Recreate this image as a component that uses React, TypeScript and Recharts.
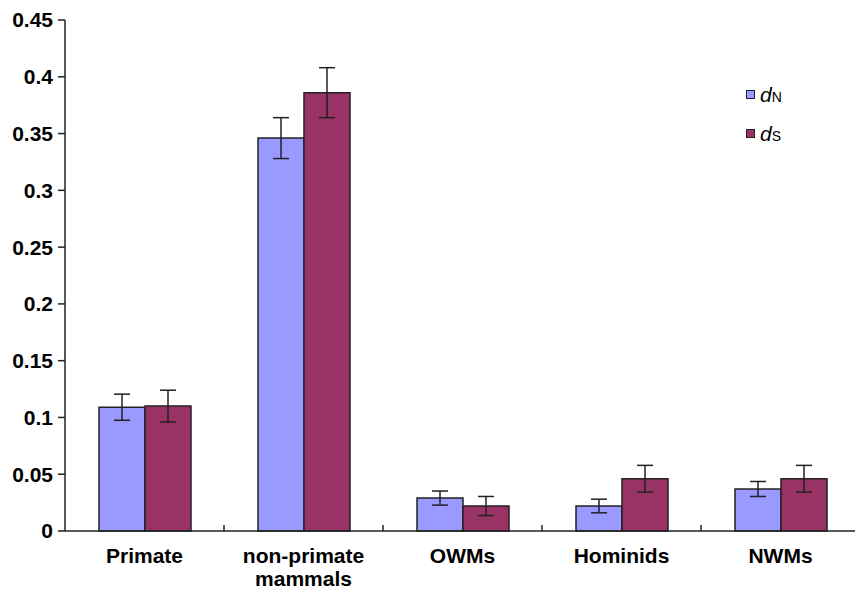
import { BarChart, Bar, XAxis, YAxis, ErrorBar } from "recharts";

const categories = ["Primate", "non-primate mammals", "OWMs", "Hominids", "NWMs"];
const dN = [0.109, 0.346, 0.029, 0.022, 0.037];
const dNErr = [0.0115, 0.018, 0.0062, 0.006, 0.0066];
const dS = [0.11, 0.386, 0.022, 0.046, 0.046];
const dSErr = [0.014, 0.022, 0.0084, 0.0118, 0.0118];
const yTicks = [0, 0.05, 0.1, 0.15, 0.2, 0.25, 0.3, 0.35, 0.4, 0.45];

const data = categories.map((name, i) => ({
  name,
  dN: dN[i],
  dNErr: dNErr[i],
  dS: dS[i],
  dSErr: dSErr[i],
}));

const FONT = "'Liberation Sans', Arial, sans-serif";
const N_COLOR = "#9999ff";
const S_COLOR = "#993366";
const EDGE = "#222";

// label under each band, plus a short upward tick on the band's left edge
function CategoryTick({ x, y, payload, index }: any) {
  const lines = String(payload.value).split(" ");
  const half = payload.offset || 0;
  return (
    <g>
      {index > 0 ? (
        <line
          x1={x - half}
          x2={x - half}
          y1={y}
          y2={y - 6}
          stroke={EDGE}
          strokeWidth={1.5}
        />
      ) : null}
      <text
        x={x}
        y={y}
        textAnchor="middle"
        fill="#000"
        fontFamily={FONT}
        fontWeight="bold"
        fontSize={21}
      >
        {lines.map((l, i) => (
          <tspan key={i} x={x} dy={i === 0 ? 32 : 23}>
            {l}
          </tspan>
        ))}
      </text>
    </g>
  );
}

function LegendBox() {
  const items = [
    { sub: "N", color: N_COLOR },
    { sub: "S", color: S_COLOR },
  ];
  return (
    <div
      style={{
        position: "absolute",
        left: 746,
        top: 75,
        fontFamily: FONT,
        color: "#000",
      }}
    >
      {items.map((it) => (
        <div
          key={it.sub}
          style={{ display: "flex", alignItems: "center", height: 39 }}
        >
          <span
            style={{
              width: 7,
              height: 7,
              background: it.color,
              border: `1px solid ${EDGE}`,
              marginRight: 5,
            }}
          />
          <span style={{ fontStyle: "italic", fontSize: 21 }}>d</span>
          <span style={{ fontSize: 14, marginTop: 4 }}>{it.sub}</span>
        </div>
      ))}
    </div>
  );
}

export default function App() {
  return (
    <div
      style={{
        position: "absolute",
        left: 0,
        top: 0,
        width: 855,
        height: 591,
        overflow: "hidden",
        background: "#fff",
      }}
    >
      <BarChart
        width={870}
        height={591}
        data={data}
        margin={{ top: 20, right: 10, left: 0, bottom: 0 }}
        barCategoryGap={34}
        barGap={0}
      >
        <XAxis
          dataKey="name"
          height={60}
          tick={<CategoryTick />}
          tickLine={false}
          tickSize={0}
          tickMargin={0}
          axisLine={{ stroke: EDGE, strokeWidth: 1.5 }}
          interval={0}
        />
        <YAxis
          width={65}
          domain={[0, 0.45]}
          ticks={yTicks}
          tickSize={7}
          tickMargin={5}
          axisLine={{ stroke: EDGE, strokeWidth: 1.5 }}
          tickLine={{ stroke: EDGE, strokeWidth: 1.5 }}
          tick={{
            fill: "#000",
            fontFamily: FONT,
            fontWeight: "bold",
            fontSize: 21,
          }}
        />
        <Bar
          dataKey="dN"
          fill={N_COLOR}
          stroke={EDGE}
          strokeWidth={1.5}
          isAnimationActive={false}
        >
          <ErrorBar dataKey="dNErr" width={8} stroke={EDGE} strokeWidth={1.5} />
        </Bar>
        <Bar
          dataKey="dS"
          fill={S_COLOR}
          stroke={EDGE}
          strokeWidth={1.5}
          isAnimationActive={false}
        >
          <ErrorBar dataKey="dSErr" width={8} stroke={EDGE} strokeWidth={1.5} />
        </Bar>
      </BarChart>
      <LegendBox />
    </div>
  );
}
